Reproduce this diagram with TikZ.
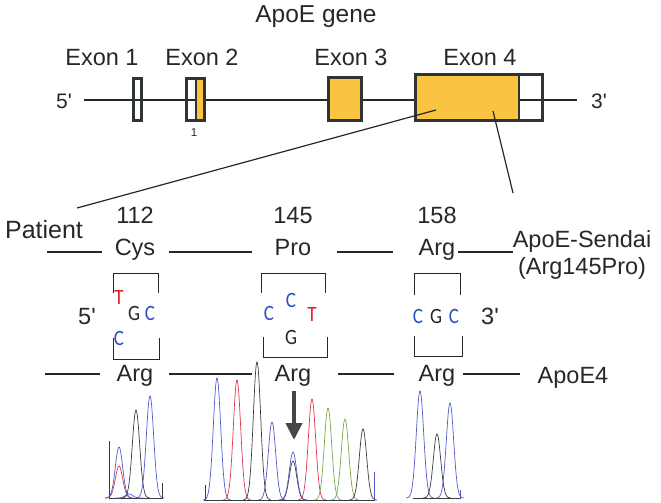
\documentclass[tikz,border=0pt]{standalone}
\usepackage{fontspec}
\setmainfont{Liberation Sans}[Ligatures=TeXOff]
\newfontfamily\nucfont{Carlito}
\usetikzlibrary{arrows.meta}
\definecolor{ink}{RGB}{38,40,40}
\definecolor{exonfill}{RGB}{250,196,64}
\definecolor{exonedge}{RGB}{45,52,50}
\definecolor{tblue}{RGB}{40,80,200}
\definecolor{tred}{RGB}{225,30,40}
\definecolor{cblue}{RGB}{80,90,205}
\definecolor{cred}{RGB}{225,50,80}
\definecolor{cgray}{RGB}{55,60,60}
\definecolor{cgreen}{RGB}{120,165,80}
\definecolor{arrowgray}{RGB}{70,72,72}
\tikzset{
 lab/.style={text=ink, inner sep=0pt, anchor=base, font=\fontsize{23.5}{28}\selectfont},
 toplab/.style={lab, font=\fontsize{23.5}{28}\selectfont},
 nuc/.style={inner sep=0pt, font=\nucfont\fontsize{19}{22}\selectfont},
 exon/.style={draw=exonedge, line width=2.8pt, inner sep=0pt, minimum height=42.2pt},
 conn/.style={draw=ink, line width=1.2pt},
 brk/.style={draw=ink, line width=1pt},
 trace/.style={line width=0.7pt},
}
\newcommand\chrpeak[4]{\draw[trace,#1] plot[domain=#2-14:#2+14, samples=37, smooth] (\x,{#4-(#4-#3)*exp(-((\x-#2)/5.2)^2)});}
\newcommand\tall[1]{\scalebox{1}[1.15]{#1}}
\begin{document}
\begin{tikzpicture}[x=1pt,y=-1pt]
\useasboundingbox (0,0) rectangle (661,503);
% ---------- gene ----------
\node[toplab, font=\fontsize{24.5}{29}\selectfont] (title) at (316,23) {ApoE gene};
\node[toplab] (e1) at (102,66) {Exon 1};
\node[toplab] (e2) at (202,66) {Exon 2};
\node[toplab] (e3) at (351,66) {Exon 3};
\node[toplab] (e4) at (480,66) {Exon 4};
\node[toplab, font=\fontsize{21}{25}\selectfont] (g5lab) at (64,108) {5'};
\node[toplab, font=\fontsize{21}{25}\selectfont] (g3lab) at (599,108) {3'};
\coordinate (g5) at (84,100);
\coordinate (g3) at (577,100);
\draw[conn] (g5) -- (g3);
\node[exon, minimum width=8.2pt] (ex1) at (137.5,99.5) {};
\node[exon, minimum width=9.6pt] (ex2a) at (191.2,99.5) {};
\node[exon, fill=exonfill, minimum width=8.6pt] (ex2b) at (200.3,99.5) {};
\node[exon, fill=exonfill, minimum width=33.2pt, minimum height=43.2pt] (ex3) at (345,99) {};
\node[exon, fill=exonfill, minimum width=103.6pt, minimum height=46.2pt] (ex4a) at (467.2,97.5) {};
\node[exon, minimum width=23.6pt, minimum height=46.2pt] (ex4b) at (530.8,97.5) {};
\node[inner sep=0pt, text=ink, font=\fontsize{11.5}{14}\selectfont, anchor=base] (one) at (194,136) {1};
% ---------- zoom lines ----------
\coordinate (z1a) at (436,110);
\coordinate (z1b) at (77,208);
\coordinate (z2a) at (493,111);
\coordinate (z2b) at (513,193);
\draw[conn] (z1a) -- (z1b);
\draw[conn] (z2a) -- (z2b);
% ---------- patient row ----------
\node[lab, font=\fontsize{25}{30}\selectfont] (patient) at (44,238) {Patient};
\node[lab] (n112) at (135,223) {112};
\node[lab] (n145) at (293,223) {145};
\node[lab] (n158) at (437,223) {158};
\node[lab] (cys) at (135,255) {Cys};
\node[lab] (pro) at (293,255) {Pro};
\node[lab] (argt) at (437,255) {Arg};
\node[lab] (sendai) at (582,247) {ApoE-Sendai};
\node[lab] (sendaib) at (582,274) {(Arg145Pro)};
\coordinate (u0) at (47,252); \coordinate (u1) at (102,252);
\coordinate (u2) at (169,252); \coordinate (u3) at (252,252);
\coordinate (u4) at (337,252); \coordinate (u5) at (393,252);
\coordinate (u6) at (458,252); \coordinate (u7) at (513,252);
\draw[conn] (u0) -- (u1);
\draw[conn] (u2) -- (u3);
\draw[conn] (u4) -- (u5);
\draw[conn] (u6) -- (u7);
% ---------- codons ----------
\draw[brk] (113,293) -- (113,273) -- (158,273) -- (158,293);
\draw[brk] (261,293) -- (261,273) -- (325,273) -- (325,293);
\draw[brk] (414,295) -- (414,273) -- (460,273) -- (460,295);
\draw[brk] (113,338) -- (113,359) -- (159,359) -- (159,338);
\draw[brk] (263,337) -- (263,357) -- (327,357) -- (327,337);
\draw[brk] (414,336) -- (414,356) -- (462,356) -- (462,336);
\node[lab] (c5) at (87,324) {5'};
\node[lab] (c3) at (490,324) {3'};
\node[nuc, text=tred] (t1) at (119,297) {\tall{T}};
\node[nuc, text=ink] (g1) at (134,313) {\tall{G}};
\node[nuc, text=tblue] (c1) at (150,313) {\tall{C}};
\node[nuc, text=tblue] (c1b) at (119,338) {\tall{C}};
\node[nuc, text=tblue] (c2a) at (269,313) {\tall{C}};
\node[nuc, text=tblue] (c2b) at (291,300) {\tall{C}};
\node[nuc, text=tred] (t2) at (312,314) {\tall{T}};
\node[nuc, text=ink] (g2) at (291,337) {\tall{G}};
\node[nuc, text=tblue] (c3a) at (418,316) {\tall{C}};
\node[nuc, text=ink] (g3n) at (436,316) {\tall{G}};
\node[nuc, text=tblue] (c3b) at (454,316) {\tall{C}};
% ---------- ApoE4 row ----------
\node[lab] (arga) at (135,381) {Arg};
\node[lab] (argb) at (293,381) {Arg};
\node[lab] (argc) at (437,381) {Arg};
\node[lab] (apoe4) at (573,383) {ApoE4};
\coordinate (w0) at (45,374); \coordinate (w1) at (100,374);
\coordinate (w2) at (169,374); \coordinate (w3) at (252,374);
\coordinate (w4) at (338,374); \coordinate (w5) at (394,374);
\coordinate (w6) at (463,374); \coordinate (w7) at (520,374);
\draw[conn] (w0) -- (w1);
\draw[conn] (w2) -- (w3);
\draw[conn] (w4) -- (w5);
\draw[conn] (w6) -- (w7);
% ---------- chromatograms ----------
% group 1
\draw[cred, line width=0.6pt] (109,498.5) -- (163,498.5);
\draw[cgray, line width=0.5pt] (109,497.8) -- (163,497.8);
\draw[trace, cgray] (109,498) -- (109,441);
\chrpeak{cred}{119}{466}{498}
\chrpeak{cblue}{119}{447}{498}
\chrpeak{cblue}{129}{494}{498}
\chrpeak{cgray}{136}{410}{498}
\chrpeak{cblue}{150}{396}{498}
\draw[trace, cgray] (162,498) -- (162,483);
% group 2
\draw[cred, line width=0.6pt] (204,500.5) -- (375,500.5);
\draw[cgray, line width=0.5pt] (204,499.8) -- (375,499.8);
\draw[trace, cgray] (205,500) -- (205,485);
\chrpeak{cblue}{217}{378}{500}
\chrpeak{cred}{237}{380}{500}
\chrpeak{cgray}{257}{362}{500}
\chrpeak{cblue}{272}{422}{500}
\chrpeak{cgray}{293}{461}{500}
\chrpeak{cblue}{293}{452}{500}
\chrpeak{cred}{312}{399}{500}
\chrpeak{cgreen}{328}{408}{500}
\chrpeak{cgreen}{345}{419}{500}
\chrpeak{cgray}{363}{429}{500}
\draw[trace, cblue] (374,500) -- (374,472);
% group 3
\draw[cred, line width=0.6pt] (413,498.5) -- (461,498.5);
\draw[cgray, line width=0.5pt] (413,497.8) -- (461,497.8);
\chrpeak{cblue}{420}{391}{498}
\chrpeak{cgray}{437}{434}{498}
\chrpeak{cblue}{450}{403}{498}
\draw[trace, cblue] (460,498) -- (460,490);
% arrow
\coordinate (ar1) at (294,391);
\coordinate (ar2) at (294,440);
\draw[arrowgray, line width=4pt, -{Triangle[width=16pt,length=17pt]}] (ar1) -- (ar2);
\end{tikzpicture}
\end{document}
